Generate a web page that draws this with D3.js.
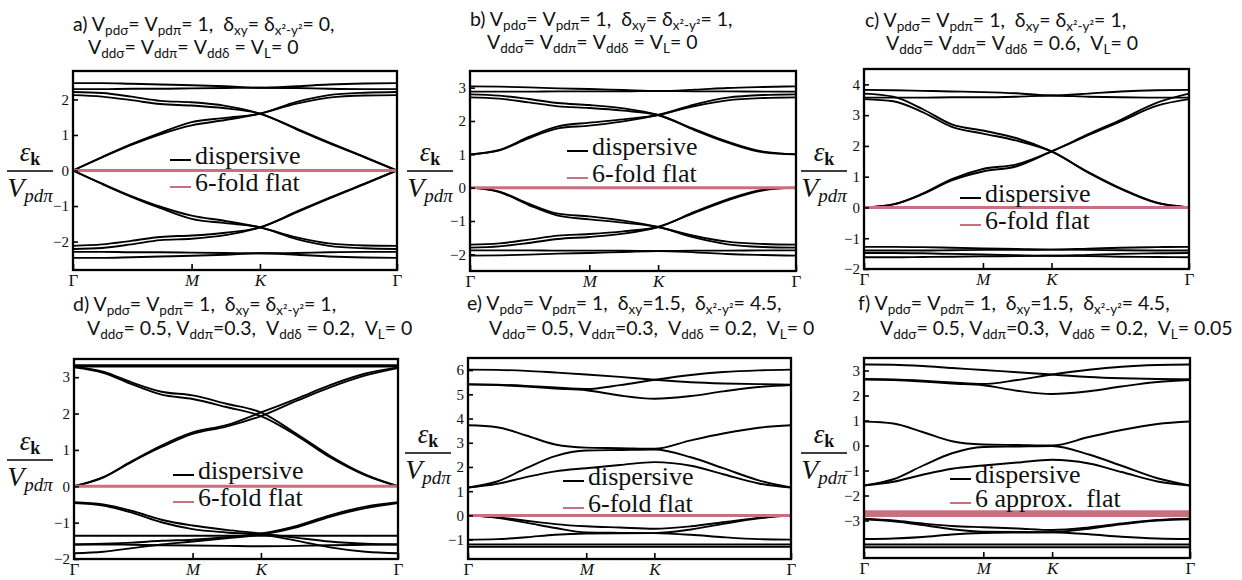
<!DOCTYPE html>
<html>
<head>
<meta charset="utf-8">
<script src="https://cdn.jsdelivr.net/npm/d3@7"></script>
<style>
  body { margin: 0; background: #fff; }
  svg { display: block; }
  .title { font-family: Lato, "Open Sans", sans-serif; font-size: 19.5px; fill: #111; white-space: pre; }
  .tick text { font-family: "Liberation Serif", serif; fill: #111; }
  .legend { font-family: "Liberation Serif", serif; font-size: 26px; fill: #111; white-space: pre; }
  .ylab { font-family: "Liberation Serif", serif; fill: #111; }
</style>
</head>
<body>
<svg id="chart" width="1242" height="580"></svg>
<script>
// k path Γ -> M -> K -> Γ, length scaled to 1
const kPath = [0, 0.09, 0.18, 0.27, 0.366, 0.47, 0.577, 0.69, 0.79, 0.9, 1];
const kTicks = [0, 0.366, 0.577, 1];
const kLabels = ["Γ", "M", "K", "Γ"];

const zeros = [0, 0, 0, 0, 0, 0, 0, 0, 0, 0, 0];

const bandsA = [
  [2.46, 2.46, 2.44, 2.42, 2.40, 2.37, 2.33, 2.37, 2.42, 2.45, 2.46],
  [2.29, 2.29, 2.30, 2.30, 2.31, 2.32, 2.33, 2.32, 2.30, 2.29, 2.29],
  [2.21, 2.18, 2.08, 1.96, 1.92, 1.82, 1.60, 1.18, 0.79, 0.38, 0],
  [2.12, 2.08, 1.98, 1.87, 1.83, 1.75, 1.60, 1.16, 0.77, 0.37, 0],
  [0, 0.38, 0.74, 1.06, 1.36, 1.48, 1.60, 1.93, 2.12, 2.19, 2.21],
  [0, 0.37, 0.72, 1.02, 1.27, 1.42, 1.60, 1.88, 2.05, 2.11, 2.12],
  [-2.46, -2.46, -2.44, -2.42, -2.40, -2.37, -2.33, -2.37, -2.42, -2.45, -2.46],
  [-2.29, -2.29, -2.30, -2.30, -2.31, -2.32, -2.33, -2.32, -2.30, -2.29, -2.29],
  [-2.21, -2.18, -2.08, -1.96, -1.92, -1.82, -1.60, -1.18, -0.79, -0.38, 0],
  [-2.12, -2.08, -1.98, -1.87, -1.83, -1.75, -1.60, -1.16, -0.77, -0.37, 0],
  [0, -0.38, -0.74, -1.06, -1.36, -1.48, -1.60, -1.93, -2.12, -2.19, -2.21],
  [0, -0.37, -0.72, -1.02, -1.27, -1.42, -1.60, -1.88, -2.05, -2.11, -2.12]
];

const bandsB = [
  [3.04, 3.03, 3.01, 2.98, 2.96, 2.93, 2.90, 2.94, 2.99, 3.02, 3.04],
  [2.88, 2.88, 2.88, 2.89, 2.89, 2.89, 2.90, 2.89, 2.89, 2.88, 2.88],
  [2.80, 2.76, 2.66, 2.54, 2.48, 2.38, 2.18, 1.75, 1.38, 1.08, 1.0],
  [2.71, 2.67, 2.56, 2.44, 2.39, 2.31, 2.18, 1.72, 1.35, 1.06, 1.0],
  [1.0, 1.13, 1.52, 1.84, 1.95, 2.05, 2.18, 2.50, 2.70, 2.78, 2.80],
  [1.0, 1.12, 1.48, 1.78, 1.86, 1.99, 2.18, 2.45, 2.62, 2.69, 2.71],
  [-2.04, -2.03, -2.01, -1.98, -1.96, -1.93, -1.90, -1.94, -1.99, -2.02, -2.04],
  [-1.88, -1.88, -1.88, -1.89, -1.89, -1.89, -1.90, -1.89, -1.89, -1.88, -1.88],
  [-1.80, -1.76, -1.66, -1.54, -1.48, -1.38, -1.18, -0.75, -0.38, -0.08, 0],
  [-1.71, -1.67, -1.56, -1.44, -1.39, -1.31, -1.18, -0.72, -0.35, -0.06, 0],
  [0, -0.13, -0.52, -0.84, -0.95, -1.05, -1.18, -1.50, -1.70, -1.78, -1.80],
  [0, -0.12, -0.48, -0.78, -0.86, -0.99, -1.18, -1.45, -1.62, -1.69, -1.71]
];

const bandsC = [
  [3.82, 3.81, 3.79, 3.77, 3.75, 3.71, 3.64, 3.70, 3.77, 3.81, 3.82],
  [3.57, 3.57, 3.57, 3.58, 3.58, 3.60, 3.64, 3.60, 3.58, 3.57, 3.57],
  [3.70, 3.60, 3.20, 2.70, 2.50, 2.25, 1.82, 1.15, 0.62, 0.16, 0],
  [3.52, 3.45, 3.10, 2.62, 2.40, 2.17, 1.82, 1.13, 0.60, 0.15, 0],
  [0, 0.10, 0.45, 0.92, 1.25, 1.40, 1.82, 2.38, 2.85, 3.40, 3.70],
  [0, 0.10, 0.43, 0.88, 1.17, 1.34, 1.82, 2.35, 2.80, 3.30, 3.52],
  [-1.28, -1.28, -1.29, -1.31, -1.33, -1.35, -1.37, -1.34, -1.31, -1.29, -1.28],
  [-1.40, -1.40, -1.40, -1.39, -1.38, -1.38, -1.37, -1.38, -1.39, -1.40, -1.40],
  [-1.48, -1.48, -1.49, -1.51, -1.53, -1.55, -1.57, -1.54, -1.51, -1.49, -1.48],
  [-1.62, -1.62, -1.61, -1.60, -1.59, -1.58, -1.57, -1.58, -1.60, -1.61, -1.62]
];

const bandsD = [
  [3.33, 3.33, 3.33, 3.33, 3.33, 3.33, 3.33, 3.33, 3.33, 3.33, 3.33],
  [3.29, 3.29, 3.29, 3.29, 3.29, 3.29, 3.29, 3.29, 3.29, 3.29, 3.29],
  [3.29, 3.15, 2.85, 2.60, 2.50, 2.27, 2.03, 1.42, 0.84, 0.32, 0],
  [3.27, 3.12, 2.80, 2.52, 2.40, 2.18, 1.93, 1.38, 0.80, 0.30, 0],
  [0, 0.25, 0.70, 1.12, 1.48, 1.68, 2.03, 2.42, 2.78, 3.10, 3.27],
  [0, 0.24, 0.68, 1.08, 1.44, 1.64, 1.93, 2.36, 2.72, 3.05, 3.25],
  [-0.44, -0.50, -0.68, -0.92, -1.08, -1.20, -1.30, -1.42, -1.52, -1.58, -1.60],
  [-0.46, -0.53, -0.73, -0.99, -1.18, -1.27, -1.33, -1.50, -1.68, -1.80, -1.84],
  [-1.60, -1.58, -1.55, -1.50, -1.47, -1.40, -1.30, -1.08, -0.80, -0.56, -0.44],
  [-1.84, -1.80, -1.70, -1.60, -1.52, -1.43, -1.33, -1.12, -0.84, -0.60, -0.46],
  [-1.36, -1.36, -1.36, -1.36, -1.36, -1.36, -1.36, -1.36, -1.36, -1.36, -1.36],
  [-1.60, -1.60, -1.61, -1.62, -1.63, -1.64, -1.65, -1.64, -1.62, -1.61, -1.60]
];

const bandsE = [
  [6.02, 6.01, 5.97, 5.90, 5.82, 5.72, 5.60, 5.50, 5.45, 5.42, 5.40],
  [5.42, 5.40, 5.35, 5.28, 5.22, 5.38, 5.60, 5.80, 5.92, 5.99, 6.02],
  [5.40, 5.38, 5.32, 5.24, 5.17, 4.95, 4.82, 4.93, 5.12, 5.30, 5.38],
  [3.72, 3.64, 3.30, 2.93, 2.80, 2.78, 2.75, 3.10, 3.38, 3.62, 3.72],
  [1.15, 1.40, 1.95, 2.45, 2.68, 2.70, 2.72, 2.40, 1.95, 1.45, 1.15],
  [1.15, 1.30, 1.58, 1.82, 1.95, 2.08, 2.20, 2.05, 1.70, 1.32, 1.15],
  [0, -0.08, -0.22, -0.36, -0.45, -0.50, -0.55, -0.45, -0.28, -0.10, 0],
  [0, -0.10, -0.30, -0.52, -0.70, -0.72, -0.73, -0.80, -0.90, -0.98, -1.00],
  [-1.00, -0.98, -0.90, -0.80, -0.75, -0.74, -0.73, -0.58, -0.35, -0.12, 0],
  [-1.20, -1.20, -1.20, -1.20, -1.20, -1.20, -1.20, -1.20, -1.20, -1.20, -1.20],
  [-1.30, -1.30, -1.30, -1.30, -1.30, -1.30, -1.30, -1.30, -1.30, -1.30, -1.30]
];

const bandsF = [
  [3.24, 3.23, 3.18, 3.10, 3.02, 2.93, 2.84, 2.74, 2.69, 2.66, 2.65],
  [2.66, 2.64, 2.59, 2.52, 2.46, 2.62, 2.84, 3.03, 3.15, 3.22, 3.24],
  [2.64, 2.62, 2.56, 2.48, 2.41, 2.19, 2.06, 2.17, 2.36, 2.54, 2.62],
  [0.96, 0.88, 0.54, 0.17, 0.04, 0.02, 0.00, 0.34, 0.62, 0.86, 0.96],
  [-1.60, -1.35, -0.81, -0.31, -0.06, -0.04, -0.02, -0.36, -0.81, -1.31, -1.60],
  [-1.60, -1.45, -1.17, -0.93, -0.80, -0.68, -0.57, -0.72, -1.06, -1.44, -1.60],
  [-2.93, -3.00, -3.12, -3.22, -3.27, -3.32, -3.38, -3.28, -3.12, -2.98, -2.93],
  [-2.95, -3.03, -3.18, -3.35, -3.45, -3.46, -3.47, -3.55, -3.65, -3.72, -3.74],
  [-3.74, -3.72, -3.66, -3.56, -3.50, -3.48, -3.47, -3.33, -3.15, -3.00, -2.95],
  [-3.96, -3.96, -3.96, -3.96, -3.96, -3.96, -3.96, -3.96, -3.96, -3.96, -3.96],
  [-4.07, -4.07, -4.07, -4.07, -4.07, -4.07, -4.07, -4.07, -4.07, -4.07, -4.07]
];

const flatsF = [
  [-2.65, -2.65, -2.65, -2.65, -2.65, -2.65, -2.65, -2.65, -2.65, -2.65, -2.65],
  [-2.68, -2.68, -2.68, -2.68, -2.68, -2.68, -2.68, -2.68, -2.68, -2.68, -2.68],
  [-2.71, -2.71, -2.71, -2.71, -2.71, -2.71, -2.71, -2.71, -2.71, -2.71, -2.71],
  [-2.74, -2.74, -2.74, -2.74, -2.74, -2.74, -2.74, -2.74, -2.74, -2.74, -2.74],
  [-2.77, -2.77, -2.77, -2.77, -2.77, -2.77, -2.77, -2.77, -2.77, -2.77, -2.77],
  [-2.80, -2.80, -2.80, -2.80, -2.80, -2.80, -2.80, -2.80, -2.80, -2.80, -2.80]
];

// titles: strings starting with "_" are subscripts
const titlesA = [["a) V", "_pdσ", "= V", "_pdπ", "= 1,  δ", "_xy", "= δ", "_x²-y²", "= 0,"],
                 ["V", "_ddσ", "= V", "_ddπ", "= V", "_ddδ", " = V", "_L", "= 0"]];
const titlesB = [["b) V", "_pdσ", "= V", "_pdπ", "= 1,  δ", "_xy", "= δ", "_x²-y²", "= 1,"],
                 ["V", "_ddσ", "= V", "_ddπ", "= V", "_ddδ", " = V", "_L", "= 0"]];
const titlesC = [["c) V", "_pdσ", "= V", "_pdπ", "= 1,  δ", "_xy", "= δ", "_x²-y²", "= 1,"],
                 ["V", "_ddσ", "= V", "_ddπ", "= V", "_ddδ", " = 0.6,  V", "_L", "= 0"]];
const titlesD = [["d) V", "_pdσ", "= V", "_pdπ", "= 1,  δ", "_xy", "= δ", "_x²-y²", "= 1,"],
                 ["V", "_ddσ", "= 0.5, V", "_ddπ", "=0.3,  V", "_ddδ", " = 0.2,  V", "_L", "= 0"]];
const titlesE = [["e) V", "_pdσ", "= V", "_pdπ", "= 1,  δ", "_xy", "=1.5,  δ", "_x²-y²", "= 4.5,"],
                 ["V", "_ddσ", "= 0.5, V", "_ddπ", "=0.3,  V", "_ddδ", " = 0.2,  V", "_L", "= 0"]];
const titlesF = [["f) V", "_pdσ", "= V", "_pdπ", "= 1,  δ", "_xy", "=1.5,  δ", "_x²-y²", "= 4.5,"],
                 ["V", "_ddσ", "= 0.5, V", "_ddπ", "=0.3,  V", "_ddδ", " = 0.2,  V", "_L", "= 0.05"]];

const legendNames = ["dispersive", "6-fold flat"];
const legendNamesF = ["dispersive", "6 approx.  flat"];

const BLACK = "#000";
const PINK = "#c8707f";

const panels = [
  { frame: [73, 71, 397, 270], yDomain: [-2.8, 2.8], yTicks: [-2, -1, 0, 1, 2],
    bands: bandsA, flats: [zeros], titles: titlesA, titlePos: [[73, 31], [88, 54]],
    legend: legendNames, legendPos: [170, 164, 191], labelPos: [30, 171] },
  { frame: [470, 71, 796, 271], yDomain: [-2.5, 3.5], yTicks: [-2, -1, 0, 1, 2, 3],
    bands: bandsB, flats: [zeros], titles: titlesB, titlePos: [[470, 26], [487, 49]],
    legend: legendNames, legendPos: [567, 155, 182], labelPos: [430, 171] },
  { frame: [864, 69, 1189, 269], yDomain: [-2, 4.5], yTicks: [-2, -1, 0, 1, 2, 3, 4],
    bands: bandsC, flats: [zeros], titles: titlesC, titlePos: [[865, 27], [886, 50]],
    legend: legendNames, legendPos: [960, 202, 229], labelPos: [824, 171] },
  { frame: [74, 359, 398, 559], yDomain: [-2, 3.5], yTicks: [-2, -1, 0, 1, 2, 3],
    bands: bandsD, flats: [zeros], titles: titlesD, titlePos: [[73, 311], [87, 335]],
    legend: legendNames, legendPos: [173, 479, 506], labelPos: [30, 460] },
  { frame: [468, 358, 791, 559], yDomain: [-1.8, 6.5], yTicks: [-1, 0, 1, 2, 3, 4, 5, 6],
    bands: bandsE, flats: [zeros], titles: titlesE, titlePos: [[467, 310], [489, 335]],
    legend: legendNames, legendPos: [563, 485, 512], labelPos: [428, 453] },
  { frame: [864, 358, 1190, 558], yDomain: [-4.5, 3.5], yTicks: [-3, -2, -1, 0, 1, 2, 3],
    bands: bandsF, flats: flatsF, titles: titlesF, titlePos: [[858, 310], [880, 335]],
    legend: legendNamesF, legendPos: [950, 483, 507], labelPos: [824, 453] }
];

const svg = d3.select("#chart");

function richText(g, x, y, segs, cls) {
  const t = g.append("text").attr("class", cls).attr("x", x).attr("y", y);
  let low = false;
  segs.forEach(s => {
    const sub = s.startsWith("_");
    const ts = t.append("tspan").text(sub ? s.slice(1) : s);
    if (sub) ts.attr("font-size", 13.5);
    if (sub && !low) ts.attr("dy", 4);
    if (!sub && low) ts.attr("dy", -4);
    low = sub;
  });
  return t;
}

panels.forEach((p, pi) => {
  const [x0, y0, x1, y1] = p.frame;
  const g = svg.append("g");

  const x = d3.scaleLinear().domain([0, 1]).range([x0, x1]);
  const y = d3.scaleLinear().domain(p.yDomain).range([y1, y0]);

  const clipId = "clip" + pi;
  svg.append("clipPath").attr("id", clipId)
    .append("rect").attr("x", x0).attr("y", y0).attr("width", x1 - x0).attr("height", y1 - y0);

  const line = d3.line()
    .x((d, i) => x(kPath[i]))
    .y(d => y(d))
    .curve(d3.curveMonotoneX);

  const plot = g.append("g").attr("clip-path", `url(#${clipId})`);
  plot.selectAll(".band").data(p.bands).enter().append("path")
    .attr("class", "band")
    .attr("d", line)
    .attr("fill", "none")
    .attr("stroke", BLACK)
    .attr("stroke-width", 1.9);
  plot.selectAll(".flat").data(p.flats).enter().append("path")
    .attr("class", "flat")
    .attr("d", line)
    .attr("fill", "none")
    .attr("stroke", PINK)
    .attr("stroke-width", 3);

  // axes
  const yAxis = d3.axisLeft(y).tickValues(p.yTicks).tickSize(-5).tickPadding(4)
    .tickFormat(d => d < 0 ? "\u2212" + Math.abs(d) : d);
  const ya = g.append("g").attr("transform", `translate(${x0},0)`).call(yAxis);
  ya.select(".domain").remove();
  ya.selectAll(".tick line").attr("stroke", "#000").attr("stroke-width", 1.6);
  ya.selectAll(".tick text").attr("font-size", 15);

  const xAxis = d3.axisBottom(x).tickValues(kTicks).tickSize(-6).tickPadding(4)
    .tickFormat((d, i) => kLabels[i]);
  const xa = g.append("g").attr("transform", `translate(0,${y1})`).call(xAxis);
  xa.select(".domain").remove();
  xa.selectAll(".tick line").attr("stroke", "#000").attr("stroke-width", 1.6);
  xa.selectAll(".tick text").attr("font-size", 17)
    .attr("font-style", (d, i) => (kLabels[i] === "Γ" ? "normal" : "italic"));

  g.append("rect")
    .attr("x", x0).attr("y", y0).attr("width", x1 - x0).attr("height", y1 - y0)
    .attr("fill", "none").attr("stroke", "#000").attr("stroke-width", 2.3);

  // titles
  p.titles.forEach((segs, li) => {
    richText(g, p.titlePos[li][0], p.titlePos[li][1], segs, "title");
  });

  // legend
  const [lx, ly1, ly2] = p.legendPos;
  [[ly1, BLACK], [ly2, PINK]].forEach(([ly, col], li) => {
    g.append("line").attr("x1", lx).attr("x2", lx + 21)
      .attr("y1", ly - 4).attr("y2", ly - 4)
      .attr("stroke", col).attr("stroke-width", 2);
    g.append("text").attr("class", "legend").attr("x", lx + 25).attr("y", ly).text(p.legend[li]);
  });

  // y label  εk / Vpdπ
  const [cx, by] = p.labelPos;
  g.append("line").attr("x1", cx - 23).attr("x2", cx + 23).attr("y1", by).attr("y2", by)
    .attr("stroke", "#000").attr("stroke-width", 1.3);
  const num = g.append("text").attr("class", "ylab").attr("x", cx).attr("y", by - 10)
    .attr("text-anchor", "middle");
  num.append("tspan").attr("font-style", "italic").attr("font-size", 27).text("ε");
  num.append("tspan").attr("font-weight", "bold").attr("font-size", 18).attr("dy", 4).text("k");
  const den = g.append("text").attr("class", "ylab").attr("x", cx).attr("y", by + 26)
    .attr("text-anchor", "middle");
  den.append("tspan").attr("font-style", "italic").attr("font-size", 28).text("V");
  den.append("tspan").attr("font-style", "italic").attr("font-size", 19).attr("dy", 5).text("pdπ");
});
</script>
</body>
</html>
